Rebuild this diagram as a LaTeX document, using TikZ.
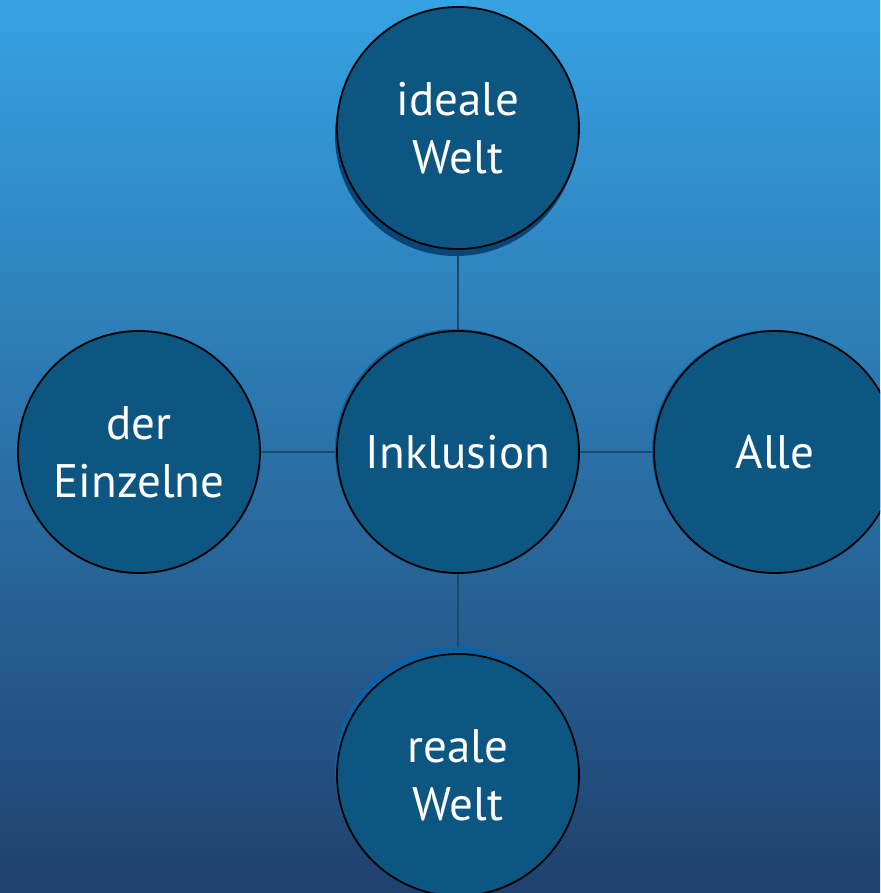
\documentclass[tikz,border=0pt]{standalone}
\usepackage{fontspec}
\setmainfont{PT Sans}
\definecolor{bgtop}{HTML}{36A2E3}
\definecolor{bgbot}{HTML}{1F416E}
\definecolor{circfill}{HTML}{0D5682}
\definecolor{shadowdark}{HTML}{074677}
\definecolor{shadowlight}{HTML}{0B63A6}
\definecolor{linkcol}{HTML}{1B4A6B}
\pgfdeclarelayer{bglayer}
\pgfdeclarelayer{linklayer}
\pgfsetlayers{bglayer,linklayer,main}
\begin{document}
\begin{tikzpicture}[x=1pt,y=-1pt,
  bubble/.style={circle, draw=black, line width=1.8pt, fill=circfill,
    minimum size=242pt, inner sep=0pt, text=white, align=center,
    font=\fontsize{47}{58}\selectfont},
  link/.style={draw=linkcol, line width=1.4pt}]
\useasboundingbox (0,0) rectangle (880,893);
\clip (0,0) rectangle (880,893);
\begin{pgfonlayer}{bglayer}
\shade[top color=bgtop, bottom color=bgbot] (0,0) rectangle (880,893);
\end{pgfonlayer}
% shadows
\fill[shadowdark] (456,135) circle[radius=121];
\fill[shadowlight] (456,768) circle[radius=121];
\fill[shadowlight!70!circfill] (456,450) circle[radius=121];
\fill[shadowlight!70!circfill] (773,451) circle[radius=121];
% nodes
\node[bubble] (c) at (458,452) {Inklusion};
\node[bubble] (t) at (458,128) {ideale\\Welt};
\node[bubble] (b) at (458,775) {reale\\Welt};
\node[bubble] (l) at (139,452) {der\\Einzelne};
\node[bubble] (r) at (775,452) {Alle};
% connectors
\begin{pgfonlayer}{linklayer}
\draw[link] (c) -- (t);
\draw[link] (c) -- (b);
\draw[link] (c) -- (l);
\draw[link] (c) -- (r);
\end{pgfonlayer}
\end{tikzpicture}
\end{document}
